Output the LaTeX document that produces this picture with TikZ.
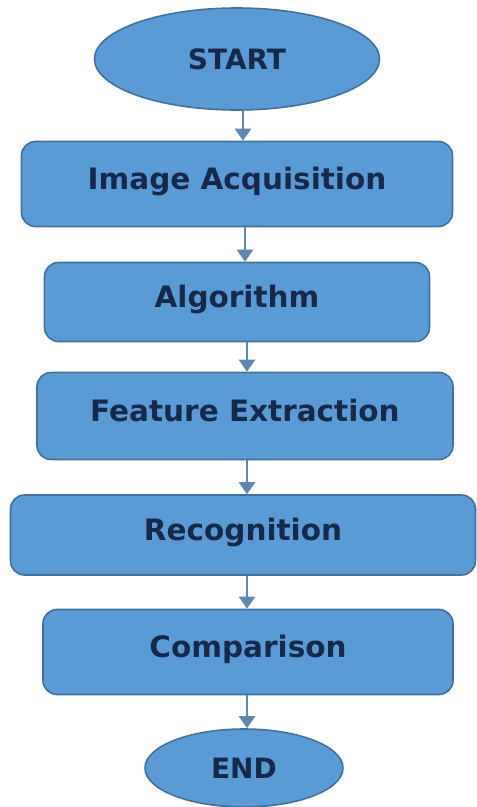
\documentclass[tikz,border=0pt]{standalone}
\usepackage{fontspec}
\setmainfont{DejaVu Sans}
\usetikzlibrary{shapes.geometric,arrows.meta}
\definecolor{boxfill}{HTML}{5B9BD5}
\definecolor{boxline}{HTML}{41719C}
\definecolor{txt}{HTML}{16294A}
\definecolor{arr}{HTML}{5F86AE}
\begin{document}
\begin{tikzpicture}[x=1pt,y=-1pt,
  stepbox/.style={draw=boxline,line width=1.6pt,fill=boxfill,rounded corners=14pt,
    inner sep=0pt,text height=20pt,text depth=10pt,
    font=\bfseries\fontsize{29.5}{32}\selectfont,text=txt},
  term/.style={ellipse,draw=boxline,line width=1.6pt,fill=boxfill,inner sep=0pt,
    font=\bfseries\fontsize{28}{30}\selectfont,text=txt},
  flow/.style={draw=arr,line width=2.6pt,-{Triangle[width=16pt,length=12pt]}}]
\useasboundingbox (0,0) rectangle (477,807);
\node[term,minimum width=285pt,minimum height=102pt] (start) at (237,59) {START};
\node[stepbox,minimum width=431pt,minimum height=85pt] (acq) at (237,184) {Image Acquisition};
\node[stepbox,minimum width=385pt,minimum height=79pt] (alg) at (237,302) {Algorithm};
\node[stepbox,minimum width=416pt,minimum height=87pt] (fe) at (245,416) {Feature Extraction};
\node[stepbox,minimum width=465pt,minimum height=80pt] (rec) at (243,535) {Recognition};
\node[stepbox,minimum width=410pt,minimum height=85pt] (cmp) at (248,652) {Comparison};
\node[term,minimum width=198pt,minimum height=78pt] (end) at (244,768) {END};
\draw[flow] (start.south -| 243,0) -- (acq.north -| 243,0);
\draw[flow] (acq.south -| 245,0) -- (alg.north -| 245,0);
\draw[flow] (alg.south -| 247,0) -- (fe.north -| 247,0);
\draw[flow] (fe.south -| 247,0) -- (rec.north -| 247,0);
\draw[flow] (rec.south -| 247,0) -- (cmp.north -| 247,0);
\draw[flow] (cmp.south -| 247,0) -- (end.north -| 247,0);
\end{tikzpicture}
\end{document}
